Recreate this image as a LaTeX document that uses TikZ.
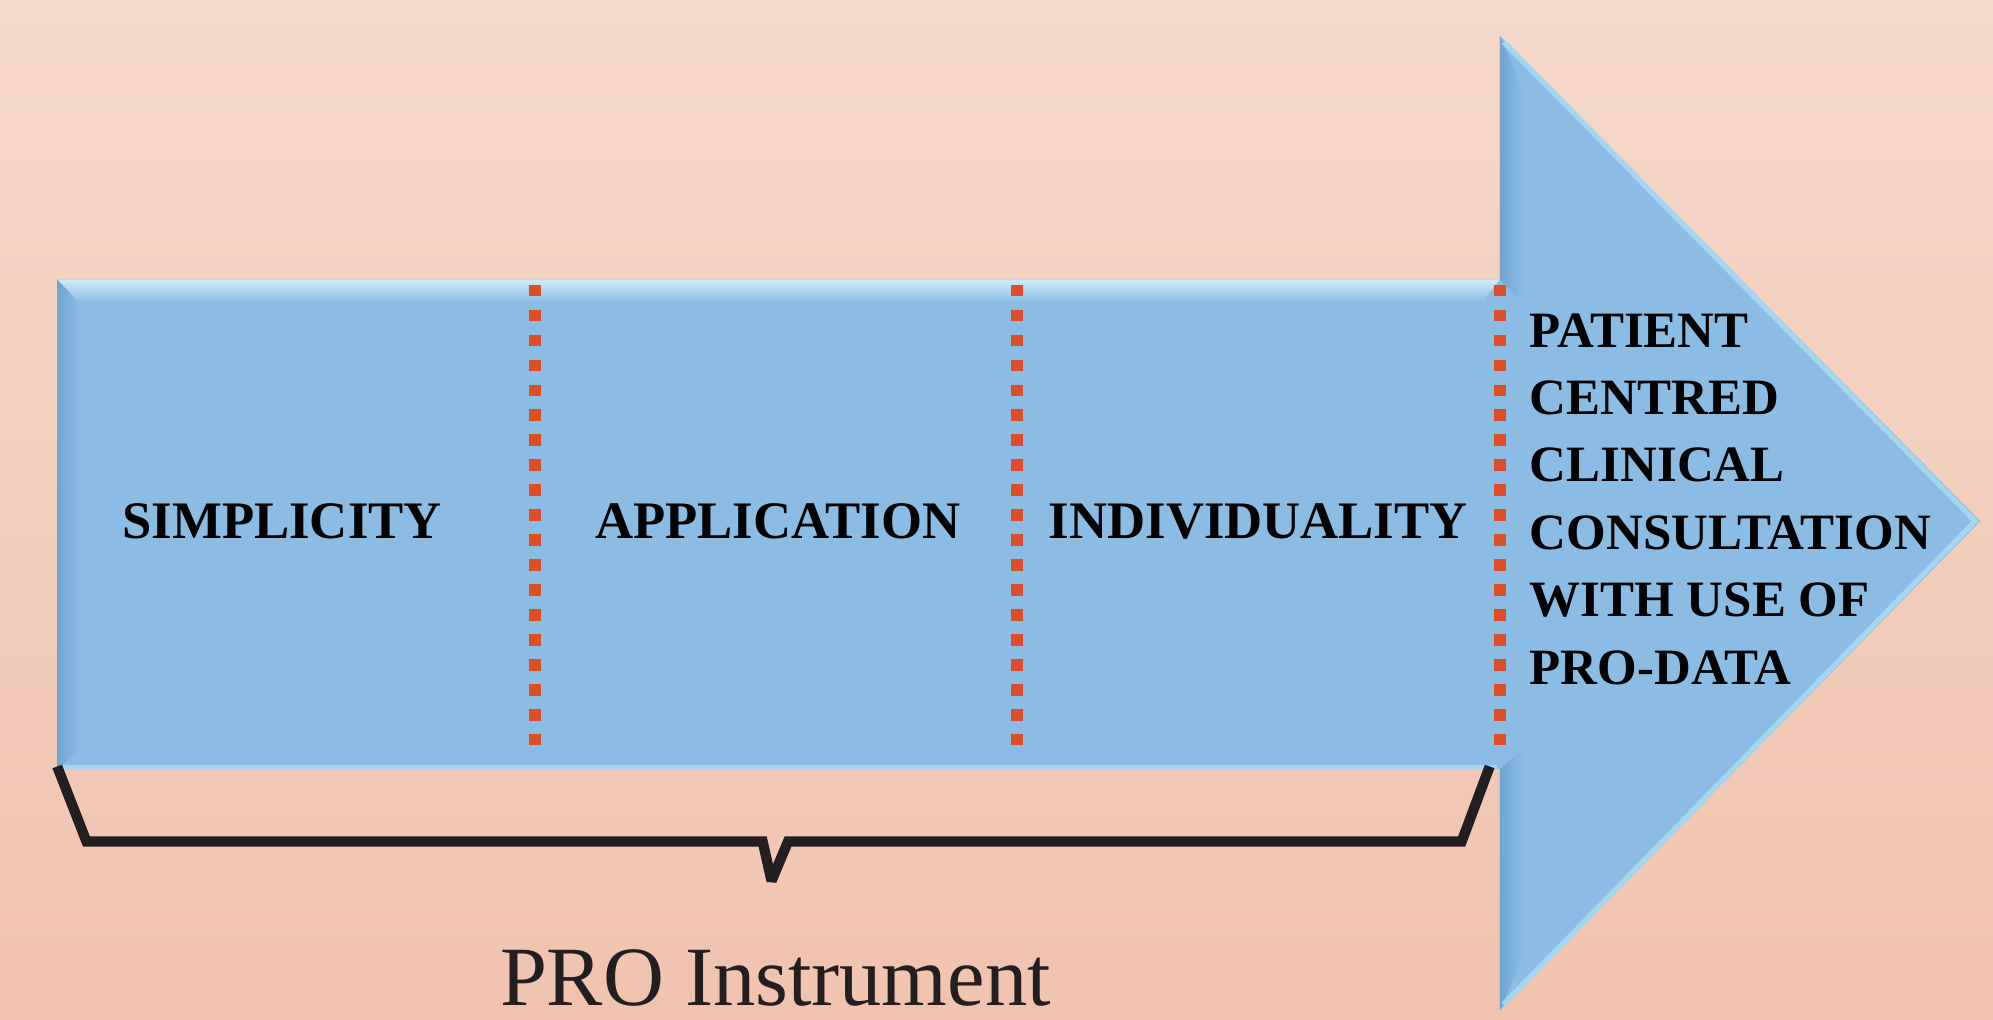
\documentclass[tikz,border=0pt]{standalone}
\usepackage{fontspec}
\setmainfont{Liberation Serif}
\definecolor{peachtop}{RGB}{246,217,203}
\definecolor{peachbot}{RGB}{240,195,174}
\definecolor{arrowblue}{RGB}{138,188,228}
\definecolor{bevellight}{RGB}{205,236,248}
\definecolor{rimblue}{RGB}{165,214,240}
\definecolor{beveldark}{RGB}{112,164,210}
\definecolor{dashred}{RGB}{222,78,38}
\definecolor{bracegray}{RGB}{35,31,32}
\tikzset{
  stage/.style={font=\bfseries\fontsize{15}{19.2}\selectfont, text=black},
  divider/.style={dashred, line width=3.3pt, dash pattern=on 3.3pt off 3.8pt},
  brace/.style={bracegray, line width=2.9pt, line join=miter, miter limit=2},
}
\begin{document}
\begin{tikzpicture}[x=0.1271mm, y=-0.1271mm]

\shade[top color=peachtop, bottom color=peachbot] (0,0) rectangle (1568,802);
\useasboundingbox (0,0) rectangle (1568,802);

\fill[arrowblue] (45,220) -- (1180,220) -- (1180,28) -- (1558,410)
  -- (1180,795) -- (1180,605) -- (45,605) -- cycle;
\shade[top color=bevellight, bottom color=arrowblue] (45,220) -- (1180,220)
  -- (1166,238) -- (62,238) -- cycle;
\shade[left color=beveldark, right color=arrowblue] (45,220) -- (62,238)
  -- (62,590) -- (45,605) -- cycle;
\draw[rimblue, line width=1.5pt] (47,604) -- (1178,604);
\shade[left color=beveldark, right color=arrowblue] (1180,28) -- (1198,70)
  -- (1198,238) -- (1180,220) -- cycle;
\shade[left color=beveldark, right color=arrowblue] (1180,605) -- (1198,590)
  -- (1198,752) -- (1180,795) -- cycle;
\draw[rimblue, line width=1.5pt] (1183,33) -- (1554,410) -- (1183,790);

\foreach \x in {421,800,1180}
  \draw[divider] (\x,224) -- (\x,596);

\node[stage] (simp) at (222,410) {SIMPLICITY};
\node[stage] (appl) at (612,410) {APPLICATION};
\node[stage] (indiv) at (990,410) {INDIVIDUALITY};
\node[stage, font=\bfseries\fontsize{14.5}{19.2}\selectfont, align=left,
  anchor=north west, inner sep=0pt] (goal) at (1203,246)
  {PATIENT\\CENTRED\\CLINICAL\\CONSULTATION\\WITH USE OF\\PRO-DATA};

\draw[brace] (45,603) -- (68,662) -- (600,662) -- (607,693) -- (620,662)
  -- (1150,662) -- (1172,603);
\node[font=\fontsize{24}{28}\selectfont, text=bracegray, anchor=base] (instr)
  at (610,791) {PRO Instrument};

\end{tikzpicture}
\end{document}
